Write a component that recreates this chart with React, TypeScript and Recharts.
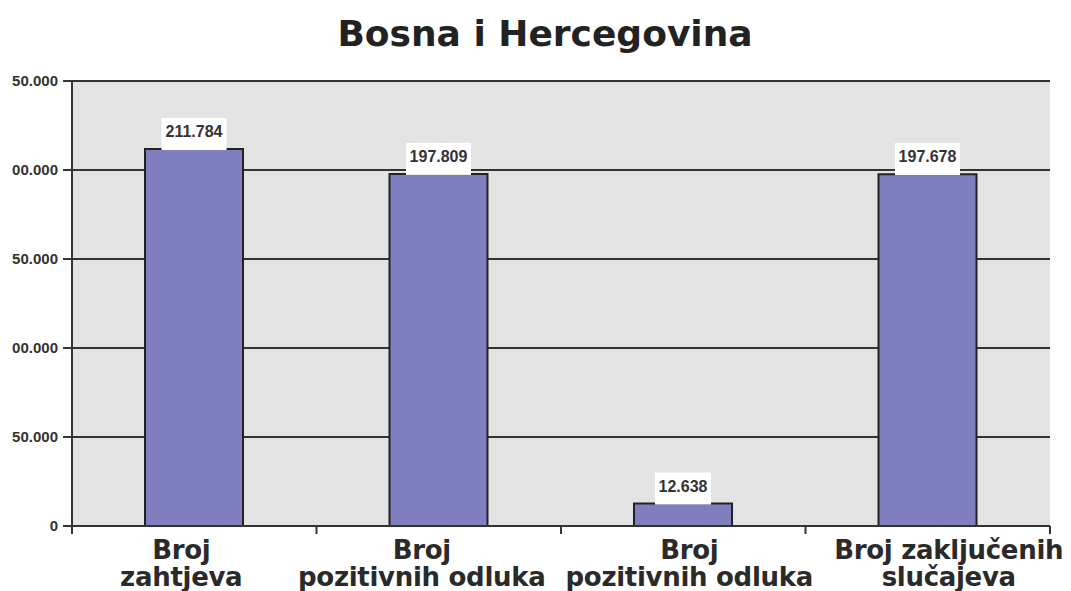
import React from 'react';
import { BarChart, Bar, XAxis, YAxis, CartesianGrid, LabelList } from 'recharts';

// categories and their two-line axis labels
const categories = ['Broj zahtjeva', 'Broj pozitivnih odluka', 'Broj pozitivnih odluka', 'Broj zaključenih slučajeva'];
const labelLines = [
  ['Broj', 'zahtjeva'],
  ['Broj', 'pozitivnih odluka'],
  ['Broj', 'pozitivnih odluka'],
  ['Broj zaključenih', 'slučajeva'],
];
const values = [211784, 197809, 12638, 197678];
const yTicks = [0, 50000, 100000, 150000, 200000, 250000];

const data = categories.map((name, i) => ({ idx: i, name, value: values[i] }));

const fmt = (v: number) => String(v).replace(/\B(?=(\d{3})+(?!\d))/g, '.');

// the labels in the original are nudged sideways a bit
const labelDx = [-13, -17, 6, 21];

const XTick = (props: any) => {
  const { x, y, payload, index } = props;
  const lines = labelLines[payload.value] || [];
  const half = payload.offset || 0;
  const tx = x + (labelDx[index] || 0);
  return (
    <g>
      <line x1={x - half} x2={x - half} y1={y} y2={y + 8} stroke="#333" strokeWidth={2} />
      {index === categories.length - 1 && (
        <line x1={x + half} x2={x + half} y1={y} y2={y + 8} stroke="#333" strokeWidth={2} />
      )}
      <text x={tx} y={y} textAnchor="middle" fontFamily="DejaVu Sans" fontWeight="bold" fontSize={26} letterSpacing={-0.3} fill="#2a2a2a">
        {lines.map((l, i) => (
          <tspan key={i} x={tx} dy={i === 0 ? 33 : 27}>{l}</tspan>
        ))}
      </text>
    </g>
  );
};

const ValueLabel = (props: any) => {
  const { x, y, width, value } = props;
  const cx = x + width / 2;
  const txt = fmt(value);
  const w = txt.length * 9 + 2;
  return (
    <g>
      <rect x={cx - w / 2} y={y - 31} width={w} height={32} fill="#fff" />
      <text x={cx} y={y - 12} textAnchor="middle" fontFamily="Liberation Sans" fontWeight="bold" fontSize={16} fill="#333">
        {txt}
      </text>
    </g>
  );
};

export default function App() {
  return (
    <div style={{ position: 'absolute', left: 12, top: 0, width: 1059, height: 591, overflow: 'hidden', background: '#fff' }}>
      <div style={{ position: 'relative', marginLeft: -12, width: 1071, height: 591 }}>
        <svg width={1071} height={70} style={{ position: 'absolute', left: 0, top: 0 }}>
          <text x={545} y={46} textAnchor="middle" fontFamily="DejaVu Sans" fontWeight="bold" fontSize={36} fill="#222">
            Bosna i Hercegovina
          </text>
        </svg>
        <BarChart
          width={1071}
          height={591}
          data={data}
          margin={{ top: 81, right: 21, left: 0, bottom: 0 }}
          barSize={98}
        >
          <CartesianGrid vertical={false} fill="#e3e3e3" stroke="#333" strokeWidth={2} />
          <XAxis
            dataKey="idx"
            tick={<XTick />}
            tickLine={false}
            tickSize={0}
            tickMargin={0}
            interval={0}
            height={65}
            axisLine={{ stroke: '#333', strokeWidth: 2 }}
          />
          <YAxis
            domain={[0, 250000]}
            ticks={yTicks}
            tickFormatter={fmt}
            width={72}
            tickSize={9}
            tickMargin={5}
            tick={{ fontFamily: 'Liberation Sans', fontWeight: 'bold', fontSize: 15, fill: '#333' }}
            axisLine={{ stroke: '#333', strokeWidth: 2 }}
            tickLine={{ stroke: '#333', strokeWidth: 2 }}
          />
          <YAxis
            yAxisId="r"
            orientation="right"
            domain={[0, 250000]}
            width={0}
            tick={false}
            tickLine={false}
            axisLine={{ stroke: '#333', strokeWidth: 2 }}
          />
          <Bar dataKey="value" fill="#7f7fbf" stroke="#222" strokeWidth={2} isAnimationActive={false}>
            <LabelList dataKey="value" content={<ValueLabel />} />
          </Bar>
        </BarChart>
      </div>
    </div>
  );
}
